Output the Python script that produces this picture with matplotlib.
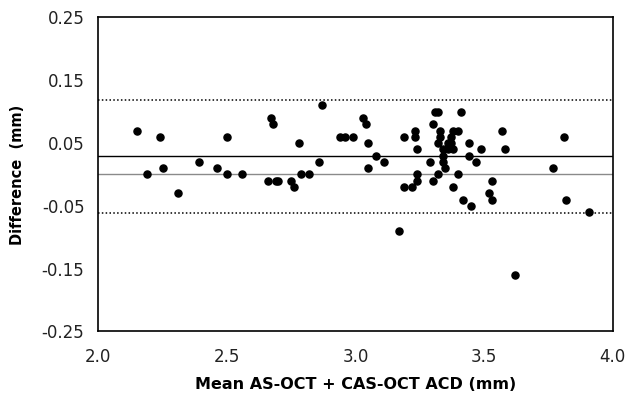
""" Bland-Altman plot: AS-OCT vs CAS-OCT anterior chamber depth """

import matplotlib.pyplot as plt

# mean of the two measurements (mm)
mean_acd = [
    2.15, 2.19, 2.24, 2.25, 2.31, 2.39, 2.46, 2.50, 2.50, 2.56,
    2.67, 2.68, 2.66, 2.69, 2.70, 2.75, 2.76, 2.78, 2.79, 2.82,
    2.86, 2.87, 2.94, 2.96, 2.99, 3.03, 3.04, 3.05, 3.05, 3.08,
    3.11, 3.17, 3.19, 3.19, 3.22, 3.23, 3.23, 3.24, 3.24, 3.24,
    3.29, 3.30, 3.30, 3.31, 3.32, 3.32, 3.32, 3.33, 3.33, 3.34,
    3.34, 3.34, 3.35, 3.36, 3.36, 3.37, 3.37, 3.38, 3.38, 3.38,
    3.40, 3.40, 3.41, 3.42, 3.44, 3.44, 3.45, 3.47, 3.49, 3.52,
    3.53, 3.53, 3.57, 3.58, 3.62, 3.77, 3.81, 3.82, 3.91,
]

# difference between the two measurements (mm)
diff_acd = [
    0.07, 0.00, 0.06, 0.01, -0.03, 0.02, 0.01, 0.06, 0.00, 0.00,
    0.09, 0.08, -0.01, -0.01, -0.01, -0.01, -0.02, 0.05, 0.00, 0.00,
    0.02, 0.11, 0.06, 0.06, 0.06, 0.09, 0.08, 0.05, 0.01, 0.03,
    0.02, -0.09, 0.06, -0.02, -0.02, 0.07, 0.06, -0.01, 0.04, 0.00,
    0.02, -0.01, 0.08, 0.10, 0.10, 0.05, 0.00, 0.07, 0.06, 0.03,
    0.04, 0.02, 0.01, 0.05, 0.04, 0.06, 0.05, 0.04, -0.02, 0.07,
    0.07, 0.00, 0.10, -0.04, 0.05, 0.03, -0.05, 0.02, 0.04, -0.03,
    -0.01, -0.04, 0.07, 0.04, -0.16, 0.01, 0.06, -0.04, -0.06,
]

mean_diff = 0.03
upper_loa = 0.119
lower_loa = -0.062

x_ticks = [2.0, 2.5, 3.0, 3.5, 4.0]
y_ticks = [-0.25, -0.15, -0.05, 0.05, 0.15, 0.25]

###############################################################################
# create the plot
###############################################################################
fig = plt.figure(figsize=(6.29, 3.95), dpi=100)
ax = fig.add_axes([0.1563, 0.1608, 0.8175, 0.7949])

ax.axhline(0, color='#8a8a8a', lw=1.0)
ax.axhline(mean_diff, color='black', lw=1.0)
ax.axhline(upper_loa, color='black', lw=1.1, ls=(0, (1, 1.5)))
ax.axhline(lower_loa, color='black', lw=1.1, ls=(0, (1, 1.5)))

ax.scatter(mean_acd, diff_acd, s=26, color='black', zorder=3)

ax.set_xlim(2.0, 4.0)
ax.set_ylim(-0.25, 0.25)
ax.set_xticks(x_ticks)
ax.set_xticklabels([f"{t:.1f}" for t in x_ticks])
ax.set_yticks(y_ticks)
ax.set_yticklabels([f"{t:.2f}" for t in y_ticks])
ax.tick_params(length=0, labelsize=12, colors='#222222')
ax.tick_params(axis='x', pad=12)
ax.tick_params(axis='y', pad=10)

for s in ax.spines.values():
    s.set_linewidth(1.2)

ax.set_xlabel("Mean AS-OCT + CAS-OCT ACD (mm)", fontsize=11.5,
              weight='bold', labelpad=8)
ax.set_ylabel("Difference  (mm)", fontsize=10.5, weight='bold', labelpad=12)

fig.savefig("out.png", dpi=100)
